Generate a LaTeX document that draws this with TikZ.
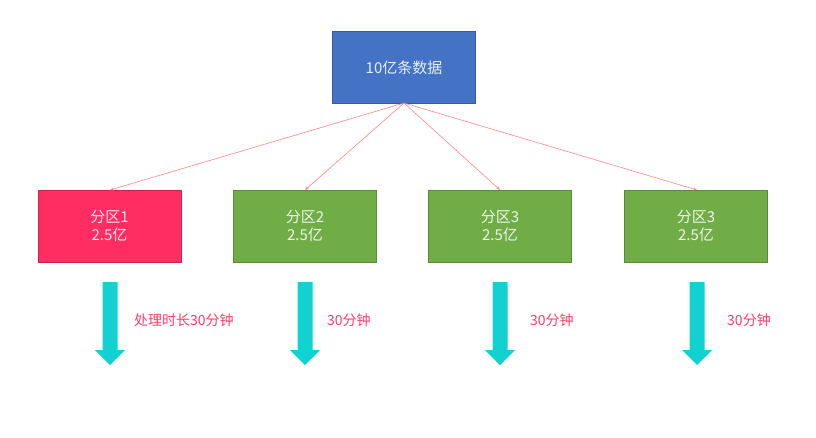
\documentclass[tikz,border=0pt]{standalone}
\usepackage{fontspec}
\newfontfamily\cjk{Noto Sans CJK SC}
\begin{document}
\begin{tikzpicture}[x=1pt,y=-1pt,
 box/.style={draw=#1!80!black,line width=0.4pt,fill=#1,minimum width=143pt,minimum height=72pt,text=white!88!#1,font=\cjk\fontsize{15}{18}\selectfont,align=center,inner sep=0pt},
 link/.style={draw=pink!70!red,line width=0.6pt,-{Stealth[length=4pt,width=3pt]}},
 lbl/.style={text=red!60!pink,font=\cjk\fontsize{14}{16}\selectfont,anchor=west,inner sep=0pt}]
\usetikzlibrary{arrows.meta}
\definecolor{topb}{HTML}{4472C4}
\definecolor{redb}{HTML}{FF2D62}
\definecolor{grnb}{HTML}{70AD47}
\definecolor{cyanb}{HTML}{11D1D1}
\definecolor{lblc}{HTML}{FF3A6A}
\useasboundingbox (0,0) rectangle (816,437);
\node[box=topb] (top) at (404,67.5) {10亿条数据};
\node[box=redb] (p1) at (109.5,226) {分区1\\2.5亿};
\node[box=grnb] (p2) at (305,226) {分区2\\2.5亿};
\node[box=grnb] (p3) at (500,226) {分区3\\2.5亿};
\node[box=grnb] (p4) at (696,226) {分区3\\2.5亿};
\coordinate (s) at (404,103);
\foreach \i/\x in {1/110,2/305,3/500,4/697}{
 \coordinate (e\i) at (\x,190);
 \draw[link] (s) -- (e\i);
 \fill[cyanb] (\x-7.5,282) -- (\x+7.5,282) -- (\x+7.5,350) -- (\x+15,350) -- (\x,365) -- (\x-15,350) -- (\x-7.5,350) -- cycle;
}
\node[lbl,text=lblc] (l1) at (134,320) {处理时长30分钟};
\node[lbl,text=lblc] (l2) at (327,320) {30分钟};
\node[lbl,text=lblc] (l3) at (530,320) {30分钟};
\node[lbl,text=lblc] (l4) at (727,320) {30分钟};
\end{tikzpicture}
\end{document}
